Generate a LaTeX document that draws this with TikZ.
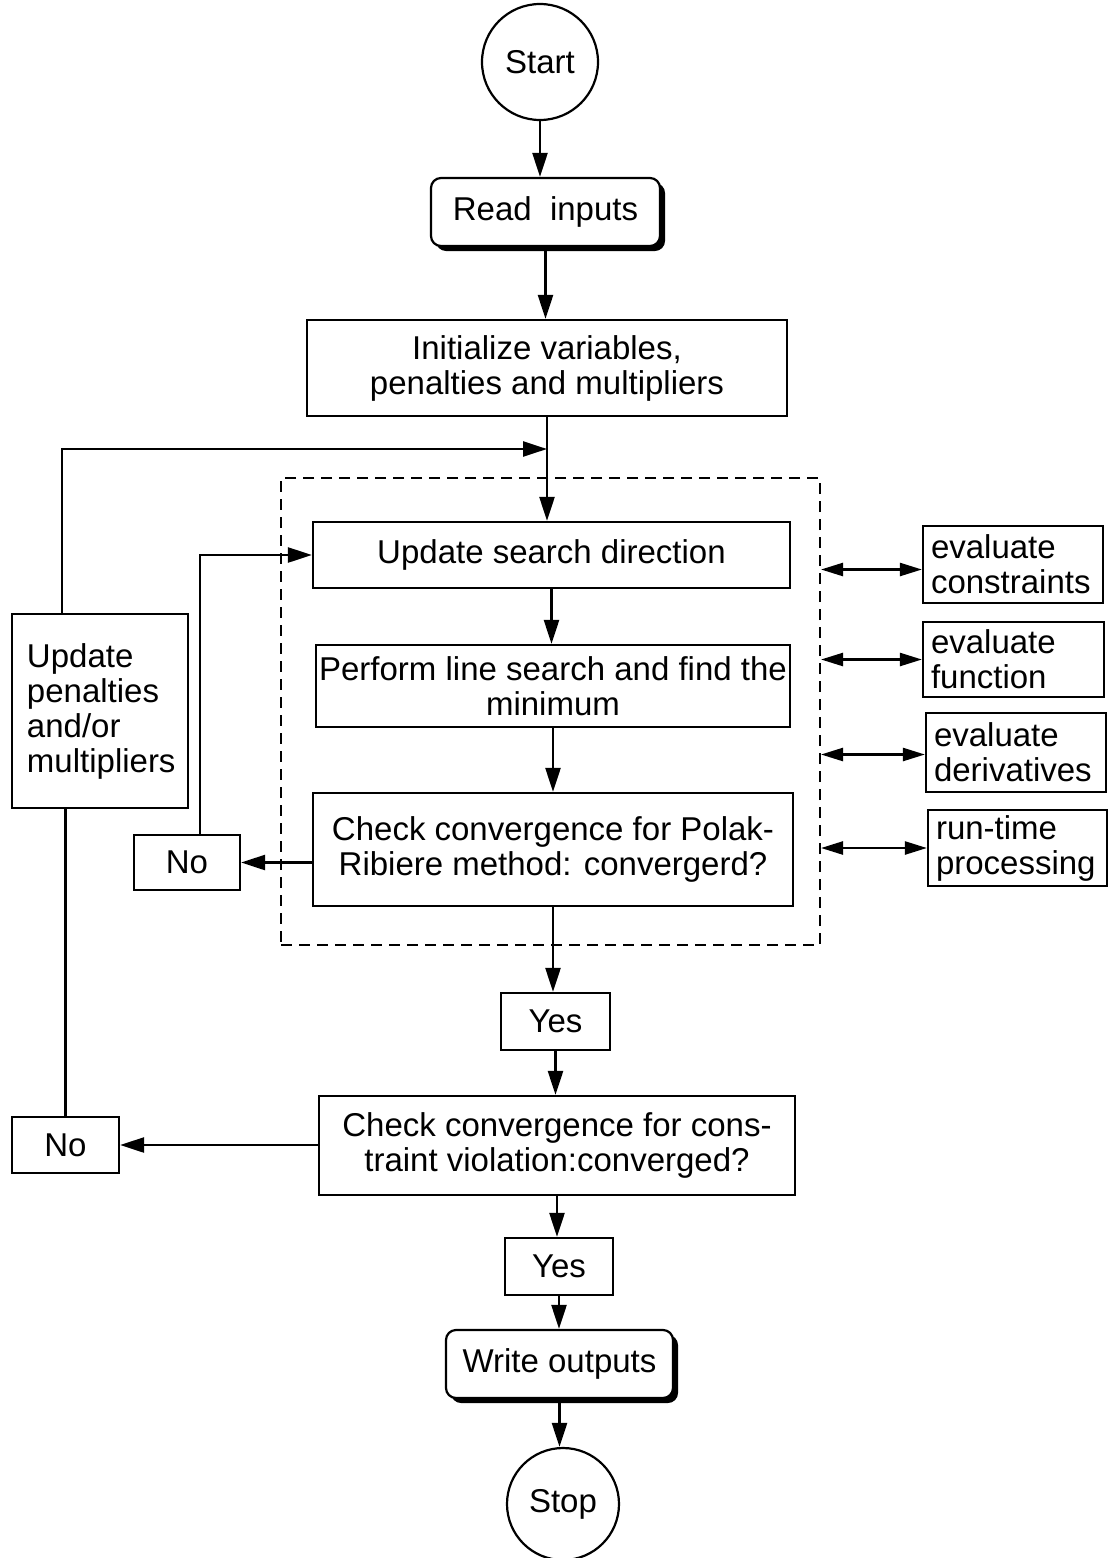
\documentclass[tikz,border=0pt]{standalone}
\usepackage{fontspec}
\setmainfont{Liberation Sans}
\usetikzlibrary{arrows.meta,shadows}
\begin{document}
\begin{tikzpicture}[x=1pt,y=-1pt,
  every node/.style={font=\fontsize{33}{35}\selectfont},
  box/.style={draw,line width=2.2pt,fill=white,inner sep=0pt,align=center},
  rbox/.style={box,rounded corners=10pt,drop shadow={shadow xshift=5pt,shadow yshift=-5pt,opacity=1,fill=black}},
  sidebox/.style={draw,line width=2.2pt,inner sep=0pt,align=left},
  term/.style={draw,circle,line width=2.2pt,inner sep=0pt},
  arr/.style={line width=2.4pt,-{Triangle[length=24pt,width=15pt]}},
  darr/.style={line width=2.4pt,{Triangle[length=22pt,width=13pt]}-{Triangle[length=22pt,width=13pt]}},
  ln/.style={line width=2.4pt}]
\useasboundingbox[fill=white] (0,0) rectangle (1113,1558);
% group
\node[draw,line width=2pt,dash pattern=on 11pt off 7pt,minimum width=539pt,minimum height=467pt,inner sep=0pt] (grp) at (550.5,711.5) {};
% main flow
\node[term,minimum size=116pt] (start) at (540,62) {Start};
\node[rbox,minimum width=229pt,minimum height=68pt] (read) at (545.5,212) {Read\ \ inputs};
\node[box,minimum width=480pt,minimum height=96pt] (init) at (547,368) {Initialize variables,\\ penalties and multipliers};
\node[box,minimum width=477pt,minimum height=66pt] (upd) at (551.5,555) {Update search direction};
\node[box,minimum width=474pt,minimum height=82pt] (lsrch) at (553,686) {Perform line search and find the\\ minimum};
\node[box,minimum width=480pt,minimum height=113pt] (polak) at (553,849.5) {Check convergence for Polak-\\ Ribiere method: convergerd?};
\node[box,minimum width=106pt,minimum height=55pt] (no1) at (187,862.5) {No};
\node[box,minimum width=109pt,minimum height=57pt] (yes1) at (555.5,1021.5) {Yes};
\node[box,minimum width=476pt,minimum height=99pt] (chk2) at (557,1145.5) {Check convergence for cons-\\ traint violation:converged?};
\node[box,minimum width=107pt,minimum height=56pt] (no2) at (65.5,1145) {No};
\node[sidebox,text width=146pt,minimum height=194pt,inner xsep=15pt] (pen) at (100,711) {Update\\ penalties\\ and/or\\ multipliers};
\node[box,minimum width=108pt,minimum height=57pt] (yes2) at (559,1266.5) {Yes};
\node[rbox,minimum width=227pt,minimum height=68pt] (write) at (559.5,1364) {Write outputs};
\node[term,minimum size=112pt] (stop) at (563,1504) {Stop};
% side boxes
\node[sidebox,text width=164pt,minimum height=77pt,inner xsep=8pt] (ec) at (1013,564.5) {evaluate\\ constraints};
\node[sidebox,text width=165pt,minimum height=75pt,inner xsep=8pt] (ef) at (1013.5,659.5) {evaluate\\ function};
\node[sidebox,text width=164pt,minimum height=79pt,inner xsep=8pt] (ed) at (1016,752.5) {evaluate\\ derivatives};
\node[sidebox,text width=163pt,minimum height=76pt,inner xsep=8pt] (rt) at (1017.5,848) {run-time\\ processing};
% merge point
\coordinate (m) at (547,449);
% connectors
\draw[arr] (start.south) -- (start.south |- read.north);
\draw[arr] (read.south) -- (read.south |- init.north);
\draw[arr] (init.south) -- (init.south |- upd.north);
\draw[arr] ([xshift=-38pt]pen.north) |- (m);
\draw[arr] (upd.south) -- (upd.south |- lsrch.north);
\draw[arr] (lsrch.south) -- (lsrch.south |- polak.north);
\draw[arr] (polak.west |- no1) -- (no1.east);
\draw[arr] ([xshift=13pt]no1.north) |- (upd.west);
\draw[arr] (polak.south) -- (polak.south |- yes1.north);
\draw[arr] (yes1.south) -- (yes1.south |- chk2.north);
\draw[arr] (chk2.west |- no2) -- (no2.east);
\draw[ln] (no2.north) -- (no2.north |- pen.south);
\draw[arr] (chk2.south) -- (chk2.south |- yes2.north);
\draw[arr] (yes2.south) -- (yes2.south |- write.north);
\draw[arr] (write.south) -- (write.south |- stop.north);
% side connectors
\draw[darr] ([yshift=-5pt]grp.east |- ec) -- ([yshift=-5pt]ec.west);
\draw[darr] (grp.east |- ef) -- (ef.west);
\draw[darr] ([yshift=-2pt]grp.east |- ed) -- ([yshift=-2pt]ed.west);
\draw[darr] (grp.east |- rt) -- (rt.west);
\end{tikzpicture}
\end{document}
